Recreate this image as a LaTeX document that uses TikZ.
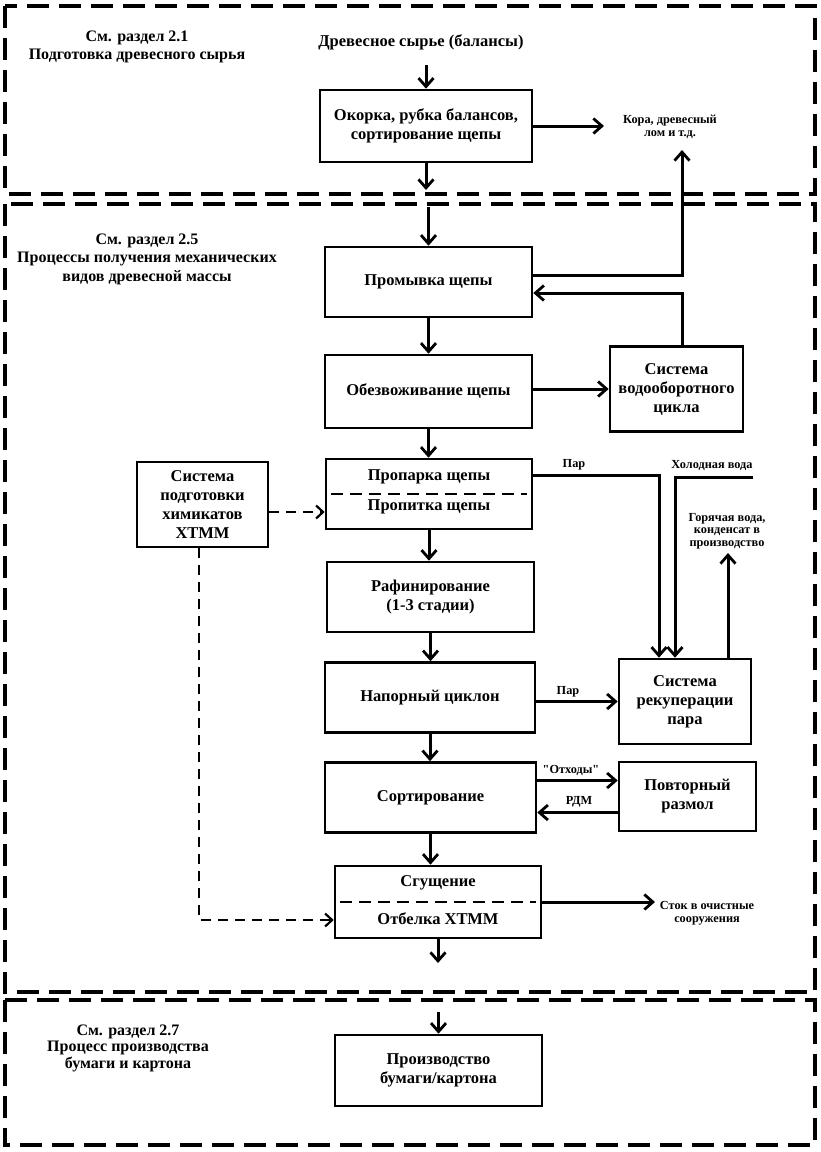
\documentclass[tikz,border=0pt]{standalone}
\usepackage{fontspec}
\setmainfont{Liberation Serif}[Ligatures=TeXOff]
\usetikzlibrary{arrows.meta,calc}
\begin{document}
\begin{tikzpicture}[x=1pt,y=-1pt,
  every node/.style={font=\bfseries\fontsize{16.5}{19}\selectfont, align=center, inner sep=1pt},
  box/.style={draw, line width=2.6pt, inner sep=2pt},
  small/.style={font=\bfseries\fontsize{12.3}{13.5}\selectfont},
  arr/.style={line width=3pt, -{Straight Barb[length=8.5pt,width=15pt,line width=2.8pt]}},
  dasharr/.style={line width=2.4pt, dash pattern=on 10pt off 7pt, -{Straight Barb[length=7pt,width=13pt,line width=2.2pt]}},
  sect/.style={line width=3.4pt, dash pattern=on 22pt off 10pt},
  splitline/.style={line width=2.4pt, dash pattern=on 12pt off 7pt}]
\useasboundingbox (0,0) rectangle (821,1152);
\fill[white] (0,0) rectangle (821,1152);
% sections
\draw[sect] (5,6) rectangle (815,194);
\draw[sect] (5,204) rectangle (815,992);
\draw[sect] (5,1000) rectangle (815,1145);
\node[font=\bfseries\fontsize{16}{18.5}\selectfont] (s1) at (137,47) {См. раздел 2.1\\Подготовка древесного сырья};
\node[font=\bfseries\fontsize{16}{18.5}\selectfont] (s2) at (147,259) {См. раздел 2.5\\Процессы получения механических\\видов древесной массы};
\node[font=\bfseries\fontsize{16}{16.5}\selectfont] (s3) at (128,1048) {См. раздел 2.7\\Процесс производства\\бумаги и картона};
% boxes
\node (raw) at (421,42) {Древесное сырье (балансы)};
\node[box,minimum width=212pt,minimum height=72pt] (okorka) at (426,126) {Окорка, рубка балансов,\\сортирование щепы};
\node[box,minimum width=207pt,minimum height=70pt] (promyv) at (428.5,282) {Промывка щепы};
\node[box,minimum width=207pt,minimum height=73pt] (obezv) at (428.5,391.5) {Обезвоживание щепы};
\node[box,minimum width=133pt,minimum height=85pt] (vodo) at (676.5,389) {Система\\водооборотного\\цикла};
\node[box,minimum width=206pt,minimum height=70pt] (proparka) at (429,494) {};
\node (tprop1) at ([yshift=17pt]proparka.center) {Пропарка щепы};
\node (tprop2) at ([yshift=-13pt]proparka.center) {Пропитка щепы};
\node[box,minimum width=131pt,minimum height=85pt] (chem) at (202.5,504.5) {Система\\подготовки\\химикатов\\ХТММ};
\node[box,minimum width=207pt,minimum height=70pt] (rafin) at (430.5,597) {Рафинирование\\(1-3 стадии)};
\node[box,minimum width=210pt,minimum height=70pt] (napor) at (430,697.5) {Напорный циклон};
\node[box,minimum width=132pt,minimum height=85pt] (rekup) at (685,701.5) {Система\\рекуперации\\пара};
\node[box,minimum width=211pt,minimum height=70pt] (sort) at (430.5,797.5) {Сортирование};
\node[box,minimum width=137pt,minimum height=69pt] (povtor) at (687.5,796.5) {Повторный\\размол};
\node[box,minimum width=206pt,minimum height=72pt] (sgusch) at (438,902) {};
\node (tsg1) at ([yshift=19pt]sgusch.center) {Сгущение};
\node (tsg2) at ([yshift=-17pt]sgusch.center) {Отбелка ХТММ};
\node[box,minimum width=207pt,minimum height=71pt] (proizv) at (438.5,1070.5) {Производство\\бумаги/картона};
\draw[splitline] ([xshift=6pt]proparka.west) -- ([xshift=-6pt]proparka.east);
\draw[splitline] ([xshift=6pt]sgusch.west) -- ([xshift=-6pt]sgusch.east);
% labels
\node[small] (lkora) at (670,127) {Кора, древесный\\лом и т.д.};
\node[small] (lpar1) at (574,465) {Пар};
\node[small] (lcold) at (712,466) {Холодная вода};
\node[small,font=\bfseries\fontsize{12.3}{12.3}\selectfont] (lhot) at (727,531) {Горячая вода,\\конденсат в\\производство};
\node[small] (lpar2) at (568,692) {Пар};
\node[small] (lotx) at (571,770) {"Отходы"};
\node[small] (lrdm) at (579,802) {РДМ};
\node[small,font=\bfseries\fontsize{12.3}{12.5}\selectfont] (lstok) at (707,913) {Сток в очистные\\сооружения};
% free ends
\coordinate (cin) at (426,65);
\coordinate (cout1) at (426,190);
\coordinate (cin2) at (428.5,207);
\coordinate (ckora) at (604,126);
\coordinate (ckorb) at (682,150);
\coordinate (ccold) at (753,477);
\coordinate (chot) at (728,553);
\coordinate (cstok) at (655,902);
\coordinate (cout2) at (438,963);
\coordinate (cin3) at (438.5,1012);
% connectors
\draw[arr] (cin) -- (okorka.north);
\draw[arr] (okorka.south) -- (cout1);
\draw[arr] (cin2) -- (promyv.north);
\draw[arr] (okorka.east) -- (ckora);
\draw[arr] ([yshift=7pt]promyv.east) -| (ckorb);
\draw[arr] ([xshift=5.5pt]vodo.north) |- ([yshift=-11pt]promyv.east);
\draw[arr] (promyv.south) -- (promyv.south |- obezv.north);
\draw[arr] (obezv.east |- vodo.west) -- (vodo.west);
\draw[arr] (obezv.south) -- (obezv.south |- proparka.north);
\coordinate (cch) at ([yshift=-7.5pt]chem.east);
\draw[dasharr] (cch) -- (cch -| proparka.west);
\draw[dasharr] ([xshift=-3.5pt]chem.south) |- ([yshift=-18pt]sgusch.west);
\draw[arr] ([yshift=19pt]proparka.east) -| ([xshift=-26pt]rekup.north);
\draw[arr] (ccold) -| ([xshift=-10pt]rekup.north);
\draw[arr] ([xshift=43pt]rekup.north) -- (chot);
\draw[arr] (proparka.south) -- (proparka.south |- rafin.north);
\draw[arr] (rafin.south) -- (rafin.south |- napor.north);
\draw[arr] (napor.east |- rekup.west) -- (rekup.west);
\draw[arr] (napor.south) -- (napor.south |- sort.north);
\coordinate (co) at ([yshift=17pt]sort.east);
\coordinate (cr) at ([yshift=-15pt]sort.east);
\draw[arr] (co) -- (co -| povtor.west);
\draw[arr] (cr -| povtor.west) -- (cr);
\draw[arr] (sort.south) -- (sort.south |- sgusch.north);
\draw[arr] (sgusch.east) -- (cstok);
\draw[arr] (sgusch.south) -- (cout2);
\draw[arr] (cin3) -- (proizv.north);
\end{tikzpicture}
\end{document}
